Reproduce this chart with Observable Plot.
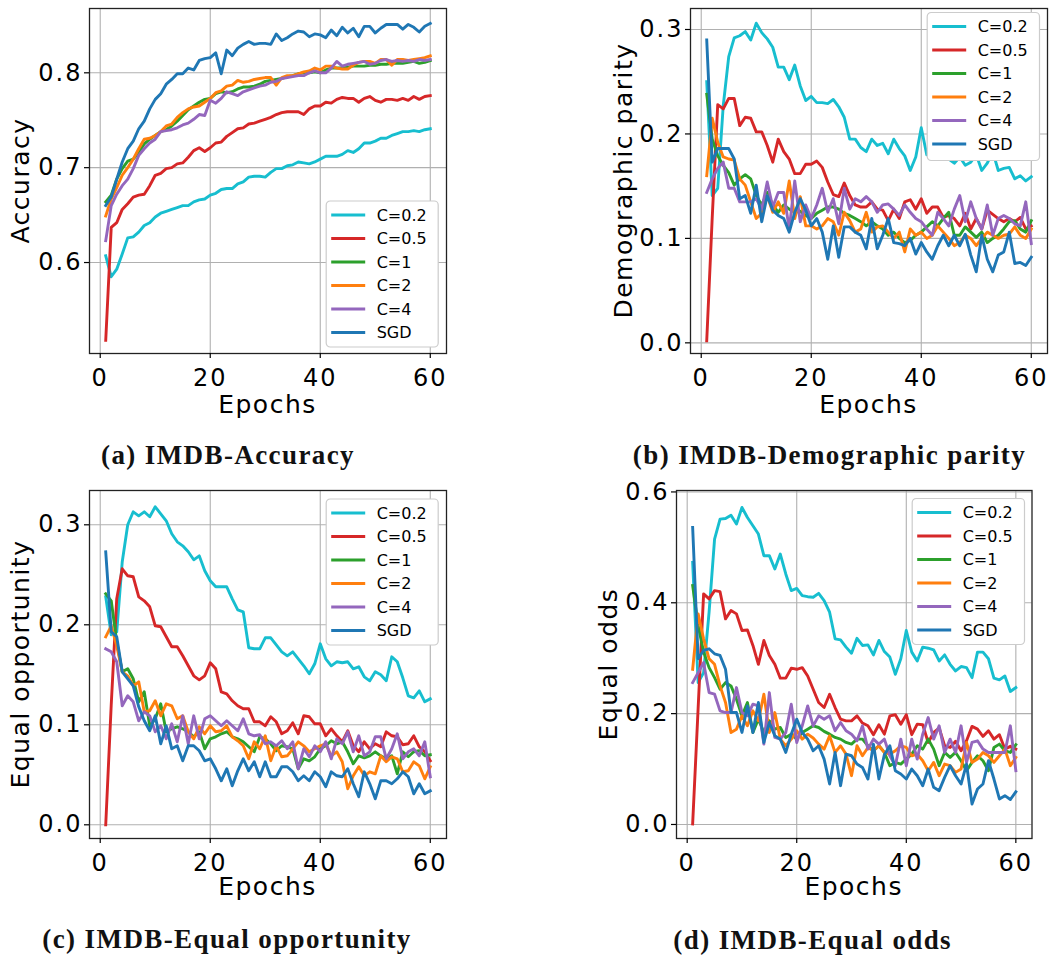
<!DOCTYPE html>
<html><head><meta charset="utf-8">
<script src="https://cdn.jsdelivr.net/npm/d3@7"></script>
<script src="https://cdn.jsdelivr.net/npm/@observablehq/plot@0.6"></script>
<style>
body{margin:0;background:#fff;}
#root{position:relative;width:1051px;height:960px;overflow:hidden;background:#fff;}
.panel{position:absolute;}
#overlay{position:absolute;left:0;top:0;}
</style>
</head><body>
<div id="root"></div>
<script>
// ---------------- data ----------------
const epochs = d3.range(1, 61);
const seriesNames = ["C=0.2", "C=0.5", "C=1", "C=2", "C=4", "SGD"];
const xTicks = [0, 20, 40, 60];

// (a) Accuracy
const a_c02 = [0.607,0.585,0.593,0.609,0.626,0.627,0.632,0.639,0.642,0.648, 0.652,0.654,0.656,0.658,0.660,0.660,0.664,0.666,0.667,0.671, 0.673,0.677,0.678,0.678,0.683,0.685,0.690,0.691,0.691,0.690, 0.695,0.699,0.699,0.702,0.703,0.706,0.705,0.704,0.706,0.709, 0.712,0.712,0.712,0.714,0.718,0.716,0.720,0.726,0.726,0.728, 0.731,0.731,0.734,0.736,0.738,0.738,0.739,0.738,0.740,0.741];
const a_c05 = [0.518,0.637,0.642,0.656,0.662,0.669,0.671,0.672,0.681,0.692, 0.694,0.699,0.700,0.704,0.705,0.711,0.718,0.721,0.717,0.721, 0.726,0.727,0.733,0.737,0.741,0.742,0.746,0.747,0.749,0.751, 0.753,0.756,0.758,0.759,0.759,0.759,0.756,0.762,0.765,0.765, 0.769,0.768,0.772,0.774,0.773,0.773,0.769,0.773,0.775,0.771, 0.769,0.772,0.772,0.771,0.773,0.771,0.775,0.772,0.775,0.776];
const a_c1 = [0.664,0.671,0.688,0.699,0.707,0.709,0.716,0.725,0.730,0.734, 0.738,0.740,0.744,0.749,0.755,0.761,0.765,0.769,0.772,0.773, 0.778,0.780,0.779,0.780,0.783,0.785,0.785,0.786,0.788,0.791, 0.792,0.793,0.794,0.796,0.797,0.799,0.800,0.800,0.801,0.800, 0.803,0.805,0.805,0.805,0.806,0.807,0.807,0.807,0.808,0.808, 0.809,0.809,0.810,0.810,0.810,0.811,0.812,0.810,0.811,0.813];
const a_c2 = [0.649,0.667,0.679,0.692,0.700,0.709,0.720,0.730,0.731,0.734, 0.738,0.744,0.746,0.753,0.758,0.762,0.764,0.765,0.769,0.773, 0.779,0.781,0.786,0.787,0.792,0.790,0.791,0.793,0.794,0.795, 0.795,0.787,0.795,0.797,0.797,0.799,0.801,0.802,0.805,0.803, 0.807,0.807,0.805,0.804,0.804,0.808,0.811,0.812,0.812,0.810, 0.814,0.814,0.808,0.814,0.814,0.813,0.814,0.815,0.816,0.818];
const a_c4 = [0.623,0.660,0.672,0.681,0.688,0.699,0.713,0.720,0.726,0.730, 0.738,0.739,0.740,0.742,0.745,0.747,0.751,0.756,0.755,0.771, 0.768,0.773,0.780,0.778,0.776,0.780,0.782,0.784,0.786,0.787, 0.790,0.791,0.794,0.795,0.796,0.797,0.797,0.800,0.802,0.800, 0.800,0.805,0.812,0.807,0.809,0.810,0.811,0.812,0.809,0.810, 0.813,0.814,0.812,0.813,0.812,0.813,0.812,0.814,0.813,0.814];
const a_sgd = [0.660,0.669,0.688,0.706,0.720,0.728,0.741,0.749,0.762,0.772, 0.778,0.788,0.793,0.799,0.799,0.805,0.803,0.813,0.815,0.816, 0.821,0.799,0.824,0.818,0.826,0.830,0.833,0.830,0.831,0.831, 0.830,0.841,0.834,0.837,0.841,0.844,0.843,0.838,0.841,0.840, 0.837,0.845,0.839,0.848,0.842,0.847,0.838,0.849,0.849,0.842, 0.847,0.851,0.851,0.851,0.846,0.851,0.848,0.843,0.849,0.852];
const a_yTicks = [0.6, 0.7, 0.8];

// (b) Demographic parity
const b_c02 = [0.250,0.141,0.148,0.227,0.274,0.292,0.294,0.298,0.290,0.306, 0.297,0.291,0.283,0.264,0.264,0.252,0.266,0.246,0.232,0.236, 0.230,0.230,0.229,0.233,0.226,0.216,0.195,0.195,0.187,0.183, 0.195,0.189,0.191,0.181,0.195,0.186,0.179,0.165,0.178,0.206, 0.180,0.185,0.190,0.182,0.176,0.172,0.178,0.170,0.173,0.180, 0.165,0.172,0.183,0.165,0.167,0.168,0.157,0.160,0.155,0.159];
const b_c05 = [0.002,0.120,0.228,0.224,0.234,0.234,0.208,0.216,0.215,0.202, 0.202,0.189,0.173,0.195,0.183,0.176,0.162,0.162,0.171,0.171, 0.174,0.168,0.154,0.142,0.140,0.153,0.141,0.132,0.130,0.130, 0.135,0.128,0.127,0.117,0.128,0.119,0.135,0.137,0.128,0.138, 0.124,0.130,0.130,0.120,0.122,0.119,0.112,0.124,0.109,0.119, 0.109,0.127,0.123,0.119,0.116,0.119,0.116,0.120,0.109,0.112];
const b_c1 = [0.238,0.195,0.179,0.170,0.163,0.151,0.157,0.161,0.157,0.141, 0.132,0.144,0.132,0.125,0.132,0.128,0.125,0.126,0.122,0.119, 0.124,0.127,0.130,0.130,0.128,0.124,0.122,0.119,0.116,0.112, 0.116,0.112,0.109,0.103,0.106,0.100,0.096,0.098,0.103,0.106, 0.111,0.116,0.112,0.119,0.125,0.103,0.103,0.111,0.106,0.101, 0.106,0.096,0.100,0.103,0.109,0.116,0.117,0.109,0.106,0.117];
const b_c2 = [0.160,0.215,0.192,0.178,0.176,0.175,0.157,0.151,0.135,0.119, 0.124,0.141,0.125,0.135,0.124,0.155,0.119,0.140,0.112,0.112, 0.109,0.112,0.119,0.116,0.103,0.125,0.117,0.106,0.109,0.125, 0.106,0.111,0.112,0.106,0.100,0.106,0.087,0.109,0.103,0.106, 0.100,0.103,0.112,0.106,0.100,0.093,0.096,0.103,0.100,0.093, 0.100,0.106,0.103,0.100,0.103,0.104,0.111,0.103,0.100,0.109];
const b_c4 = [0.144,0.157,0.167,0.173,0.148,0.148,0.135,0.135,0.135,0.138, 0.128,0.154,0.130,0.144,0.144,0.109,0.155,0.116,0.132,0.119, 0.132,0.148,0.125,0.138,0.114,0.148,0.128,0.138,0.135,0.140, 0.135,0.125,0.132,0.133,0.128,0.122,0.132,0.125,0.119,0.116, 0.109,0.103,0.125,0.119,0.112,0.128,0.141,0.116,0.135,0.119, 0.109,0.132,0.103,0.119,0.122,0.119,0.114,0.112,0.135,0.095];
const b_sgd = [0.290,0.173,0.186,0.186,0.186,0.176,0.138,0.141,0.124,0.151, 0.116,0.141,0.127,0.122,0.119,0.106,0.125,0.138,0.127,0.112, 0.119,0.106,0.080,0.112,0.082,0.111,0.111,0.106,0.103,0.090, 0.119,0.090,0.103,0.119,0.096,0.095,0.093,0.100,0.085,0.096, 0.087,0.080,0.093,0.103,0.093,0.103,0.093,0.104,0.084,0.068, 0.103,0.080,0.068,0.084,0.087,0.106,0.076,0.077,0.074,0.082];
const b_yTicks = [0.0, 0.1, 0.2, 0.3];

// (c) Equal opportunity
const c_c02 = [0.228,0.190,0.193,0.263,0.300,0.313,0.309,0.313,0.308,0.318, 0.311,0.304,0.291,0.283,0.279,0.273,0.265,0.269,0.254,0.244, 0.238,0.238,0.238,0.226,0.215,0.213,0.177,0.176,0.176,0.187, 0.187,0.180,0.173,0.169,0.173,0.166,0.159,0.151,0.161,0.181, 0.166,0.159,0.163,0.162,0.163,0.156,0.158,0.148,0.144,0.153, 0.150,0.144,0.168,0.163,0.147,0.129,0.127,0.134,0.123,0.126];
const c_c05 = [0.000,0.120,0.226,0.256,0.249,0.248,0.228,0.224,0.218,0.199, 0.198,0.188,0.178,0.178,0.169,0.159,0.149,0.145,0.149,0.162, 0.156,0.133,0.131,0.124,0.119,0.116,0.116,0.103,0.103,0.099, 0.108,0.103,0.091,0.094,0.102,0.091,0.109,0.108,0.101,0.101, 0.089,0.096,0.089,0.083,0.094,0.079,0.073,0.083,0.076,0.081, 0.078,0.093,0.089,0.088,0.080,0.081,0.089,0.078,0.073,0.064];
const c_c1 = [0.231,0.224,0.183,0.153,0.156,0.146,0.123,0.133,0.099,0.106, 0.121,0.093,0.096,0.098,0.096,0.093,0.088,0.093,0.076,0.086, 0.088,0.091,0.093,0.088,0.086,0.083,0.078,0.073,0.088,0.086, 0.081,0.074,0.079,0.078,0.076,0.056,0.066,0.064,0.068,0.076, 0.079,0.084,0.081,0.083,0.073,0.061,0.069,0.067,0.069,0.073, 0.069,0.066,0.069,0.051,0.073,0.068,0.073,0.074,0.069,0.070];
const c_c2 = [0.188,0.199,0.179,0.153,0.149,0.139,0.143,0.113,0.114,0.124, 0.109,0.121,0.119,0.106,0.109,0.093,0.086,0.098,0.091,0.099, 0.093,0.094,0.099,0.088,0.084,0.079,0.066,0.083,0.076,0.089, 0.064,0.079,0.068,0.069,0.076,0.083,0.079,0.073,0.076,0.079, 0.081,0.069,0.073,0.063,0.036,0.049,0.058,0.049,0.053,0.051, 0.069,0.063,0.068,0.066,0.053,0.054,0.063,0.059,0.046,0.058];
const c_c4 = [0.176,0.173,0.163,0.119,0.129,0.123,0.104,0.113,0.109,0.093, 0.099,0.086,0.101,0.083,0.109,0.081,0.109,0.086,0.106,0.109, 0.104,0.099,0.104,0.099,0.094,0.106,0.091,0.089,0.090,0.081, 0.083,0.079,0.084,0.076,0.083,0.056,0.076,0.068,0.079,0.073, 0.083,0.066,0.086,0.081,0.093,0.073,0.089,0.069,0.073,0.088, 0.088,0.066,0.076,0.091,0.066,0.073,0.076,0.069,0.083,0.048];
const c_sgd = [0.273,0.193,0.188,0.153,0.146,0.139,0.118,0.104,0.094,0.109, 0.081,0.099,0.076,0.079,0.064,0.079,0.079,0.074,0.064,0.066, 0.056,0.044,0.056,0.039,0.054,0.066,0.054,0.063,0.048,0.063, 0.048,0.048,0.058,0.058,0.053,0.044,0.049,0.044,0.053,0.048, 0.038,0.053,0.049,0.048,0.056,0.041,0.028,0.053,0.041,0.026, 0.044,0.044,0.041,0.046,0.053,0.048,0.031,0.041,0.031,0.034];
const c_yTicks = [0.0, 0.1, 0.2, 0.3];

// (d) Equal odds
const d_c02 = [0.473,0.256,0.274,0.383,0.515,0.551,0.552,0.558,0.542,0.572, 0.554,0.539,0.524,0.485,0.485,0.461,0.488,0.452,0.422,0.426, 0.413,0.411,0.410,0.417,0.404,0.383,0.335,0.333,0.320,0.309, 0.336,0.323,0.324,0.306,0.332,0.312,0.302,0.271,0.299,0.350, 0.311,0.295,0.320,0.318,0.315,0.295,0.306,0.289,0.277,0.285, 0.283,0.265,0.311,0.311,0.299,0.264,0.261,0.268,0.240,0.247];
const d_c05 = [0.001,0.210,0.416,0.407,0.422,0.420,0.371,0.386,0.380,0.350, 0.351,0.323,0.289,0.332,0.305,0.289,0.264,0.264,0.282,0.280, 0.283,0.268,0.244,0.220,0.211,0.235,0.211,0.190,0.187,0.187, 0.196,0.183,0.178,0.162,0.180,0.163,0.196,0.198,0.181,0.198, 0.162,0.181,0.180,0.148,0.166,0.174,0.142,0.139,0.150,0.133, 0.151,0.177,0.172,0.159,0.169,0.154,0.162,0.136,0.141,0.136];
const d_c1 = [0.431,0.359,0.311,0.283,0.265,0.244,0.256,0.250,0.226,0.196, 0.220,0.166,0.190,0.166,0.187,0.172,0.175,0.157,0.163,0.154, 0.166,0.172,0.178,0.175,0.168,0.163,0.157,0.154,0.148,0.145, 0.154,0.154,0.142,0.133,0.142,0.130,0.106,0.112,0.109,0.118, 0.127,0.142,0.136,0.154,0.136,0.106,0.130,0.121,0.130,0.115, 0.097,0.112,0.124,0.115,0.097,0.139,0.145,0.133,0.130,0.144];
const d_c2 = [0.280,0.380,0.335,0.299,0.289,0.250,0.220,0.166,0.172,0.196, 0.178,0.205,0.187,0.235,0.166,0.202,0.154,0.142,0.154,0.169, 0.154,0.163,0.156,0.145,0.136,0.160,0.130,0.142,0.127,0.088, 0.142,0.124,0.139,0.133,0.142,0.130,0.127,0.133,0.142,0.139, 0.124,0.127,0.115,0.097,0.112,0.088,0.109,0.106,0.094,0.100, 0.148,0.112,0.118,0.130,0.124,0.112,0.124,0.136,0.106,0.121];
const d_c4 = [0.256,0.274,0.292,0.238,0.235,0.205,0.202,0.202,0.247,0.202, 0.196,0.217,0.214,0.145,0.238,0.157,0.154,0.166,0.217,0.148, 0.178,0.214,0.178,0.196,0.190,0.196,0.169,0.184,0.169,0.163, 0.151,0.178,0.136,0.154,0.145,0.154,0.124,0.106,0.154,0.106, 0.154,0.118,0.163,0.193,0.154,0.178,0.130,0.154,0.130,0.178, 0.112,0.148,0.151,0.136,0.130,0.130,0.130,0.130,0.178,0.097];
const d_sgd = [0.536,0.299,0.314,0.317,0.308,0.305,0.280,0.202,0.202,0.166, 0.214,0.166,0.220,0.148,0.184,0.160,0.154,0.130,0.163,0.190, 0.166,0.154,0.133,0.142,0.118,0.073,0.130,0.070,0.127,0.124, 0.109,0.103,0.082,0.145,0.082,0.126,0.142,0.097,0.091,0.082, 0.100,0.088,0.070,0.100,0.067,0.061,0.085,0.106,0.088,0.073, 0.109,0.037,0.064,0.073,0.115,0.082,0.046,0.052,0.045,0.059];
const d_yTicks = [0.0, 0.2, 0.4, 0.6];

// ---------------- styling ----------------
const colors = {"C=0.2":"#17becf","C=0.5":"#d62728","C=1":"#2ca02c","C=2":"#ff7f0e","C=4":"#9467bd","SGD":"#1f77b4"};

const panels = [
  {series:[a_c02,a_c05,a_c1,a_c2,a_c4,a_sgd], yTicks:a_yTicks, yDomain:[0.5041,0.8678],
   left:0, top:0, width:460, height:400, ml:89, mr:14, mt:8, mb:47,
   ylabel:"Accuracy", ylx:29, yly:180.5, xlx:267.5, xly:412.7,
   caption:"(a) IMDB-Accuracy", cx:228, cy:464,
   leg:{x:325.7, y:200.5, w:112, h:146}},
  {series:[b_c02,b_c05,b_c1,b_c2,b_c4,b_sgd], yTicks:b_yTicks, yDomain:[-0.0102,0.3201],
   left:600, top:0, width:451, height:400, ml:90, mr:4, mt:8, mb:47,
   ylabel:"Demographic parity", ylx:631.5, yly:180.5, xlx:868.5, xly:412.7,
   caption:"(b) IMDB-Demographic parity", cx:829.5, cy:464,
   leg:{x:926.7, y:12, w:112.3, h:148}},
  {series:[c_c02,c_c05,c_c1,c_c2,c_c4,c_sgd], yTicks:c_yTicks, yDomain:[-0.0137,0.3343],
   left:0, top:480, width:460, height:400, ml:89, mr:14, mt:10, mb:42,
   ylabel:"Equal opportunity", ylx:29, yly:664, xlx:267.5, xly:895,
   caption:"(c) IMDB-Equal opportunity", cx:227, cy:948.3,
   leg:{x:325.7, y:498.5, w:112, h:146}},
  {series:[d_c02,d_c05,d_c1,d_c2,d_c4,d_sgd], yTicks:d_yTicks, yDomain:[-0.0253,0.6026],
   left:590, top:480, width:461, height:400, ml:86, mr:19.5, mt:10, mb:42,
   ylabel:"Equal odds", ylx:617, yly:664, xlx:853.7, xly:895,
   caption:"(d) IMDB-Equal odds", cx:812.7, cy:948.7,
   leg:{x:911.7, y:498, w:112.3, h:146}}
];

const root = document.getElementById("root");

for (const p of panels) {
  const lineMarks = p.series.map((vals, si) =>
    Plot.line(vals.map((v, i) => ({epoch: epochs[i], value: v})),
      {x: "epoch", y: "value", stroke: colors[seriesNames[si]], strokeWidth: 2.9,
       strokeLinejoin: "round", strokeLinecap: "square"}));
  const chart = Plot.plot({
    width: p.width, height: p.height,
    marginLeft: p.ml, marginRight: p.mr, marginTop: p.mt, marginBottom: p.mb,
    style: {fontFamily: "DejaVu Sans", fontSize: "24px", letterSpacing: "2px", color: "#000", background: "transparent", overflow: "visible"},
    x: {domain: [-1.95, 62.95]},
    y: {domain: p.yDomain},
    marks: [
      Plot.gridX({ticks: xTicks, stroke: "#b0b0b0", strokeOpacity: 1, strokeWidth: 1.1}),
      Plot.gridY({ticks: p.yTicks, stroke: "#b0b0b0", strokeOpacity: 1, strokeWidth: 1.1}),
      ...lineMarks,
      Plot.frame({stroke: "#222", strokeWidth: 1.3}),
      Plot.axisX({ticks: xTicks, tickSize: 5, tickPadding: 10, label: null, tickFormat: d => String(d), strokeWidth: 1.2}),
      Plot.axisY({ticks: p.yTicks, tickSize: 5, tickPadding: 2, label: null, tickFormat: d3.format(".1f"), strokeWidth: 1.2})
    ]
  });
  chart.classList.add("panel");
  chart.style.left = p.left + "px";
  chart.style.top = p.top + "px";
  chart.style.position = "absolute";
  root.appendChild(chart);
}

// overlay: axis titles, legends, captions
const svg = d3.select(root).append("svg").attr("id", "overlay")
  .attr("width", 1051).attr("height", 960)
  .style("font-family", "DejaVu Sans");

for (const p of panels) {
  svg.append("text").text("Epochs")
    .attr("x", p.xlx).attr("y", p.xly).attr("text-anchor", "middle")
    .style("font-size", "25px").style("letter-spacing", "1.5px").attr("fill", "#000");
  svg.append("text").text(p.ylabel)
    .attr("transform", `translate(${p.ylx},${p.yly}) rotate(-90)`)
    .attr("text-anchor", "middle")
    .style("font-size", "25px").style("letter-spacing", "1.5px").attr("fill", "#000");
  svg.append("text").text(p.caption)
    .attr("x", p.cx).attr("y", p.cy).attr("text-anchor", "middle")
    .style("font-family", "'Liberation Serif', serif").style("font-weight", "bold")
    .style("font-size", "27px").style("letter-spacing", "1.4px").attr("fill", "#111");
  const g = svg.append("g").attr("transform", `translate(${p.leg.x},${p.leg.y})`);
  g.append("rect").attr("x", 0.5).attr("y", 0.5).attr("width", p.leg.w).attr("height", p.leg.h)
    .attr("rx", 4).attr("fill", "#fff").attr("stroke", "#cccccc").attr("stroke-width", 1.2);
  seriesNames.forEach((name, i) => {
    const cy = 14.5 + i * 23.5;
    g.append("line").attr("x1", 5.5).attr("x2", 39.5).attr("y1", cy).attr("y2", cy)
      .attr("stroke", colors[name]).attr("stroke-width", 3);
    g.append("text").text(name).attr("x", 51).attr("y", cy + 5.9)
      .style("font-size", "16px").attr("fill", "#000");
  });
}
</script>
</body></html>
